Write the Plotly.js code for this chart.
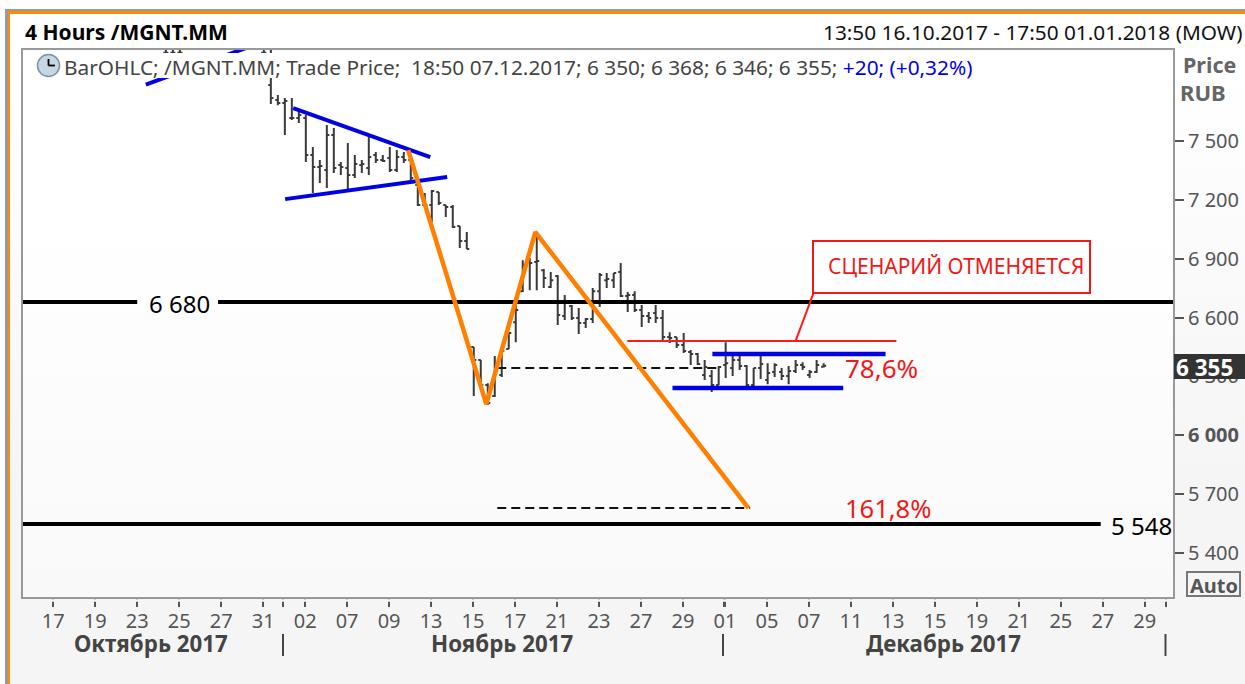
<!DOCTYPE html>
<html><head><meta charset="utf-8">
<script src="https://cdn.plot.ly/plotly-3.0.1.min.js"></script>
<style>
html,body{margin:0;padding:0;width:1245px;height:684px;overflow:hidden;background:#fff}
#frame{position:absolute;left:5px;top:9px;width:1240px;height:675px;box-sizing:border-box;border-top:2px solid #999;border-left:3px solid #999;}
#frame2{position:absolute;left:8px;top:11px;width:1237px;height:673px;box-sizing:border-box;border-top:3px solid #ff8a0a;border-left:2px solid #ff8a0a;background:linear-gradient(#ffffff 0%,#ffffff 8%,#f5f5f5 70%,#f5f5f5 100%)}
#plotbg{position:absolute;left:23px;top:50px;width:1150px;height:547px;background:linear-gradient(#ffffff 0%,#ffffff 30%,#f9f9f9 100%)}
#chart{position:absolute;left:0;top:0;width:1245px;height:684px}
</style></head><body>
<div id="frame"></div><div id="frame2"></div><div id="plotbg"></div><div id="chart"></div>
<script>
// 4-hour bars, by bar number
const barIndex = [-15,-14,-13,-1,0,1,2,3,4,5,6,7,8,9,10,11,12,13,14,15,16,17,18,19,20,21,22,23,24,25,26,27,28,29,30,31,32,33,34,35,36,37,38,39,40,41,42,43,44,45,46,47,48,49,50,51,52,53,54,55,56,57,58,59,60,61,62,63,64,65,66,67,68,69,70,71,72,73,74,75,76,77,78,79];
const openPrices = [7950,7950,7950,7950,7785,7709,7694,7617,7617,7617,7429,7368,7352,7531,7378,7362,7327,7378,7362,7429,7403,7413,7352,7418,7403,7276,7174,7174,7240,7174,7164,7067,6990,6450,6384,6256,6200,6307,6440,6577,6735,6883,6883,6842,6756,6812,6608,6659,6598,6572,6593,6735,6791,6791,6832,6710,6715,6639,6608,6623,6598,6501,6501,6460,6425,6414,6307,6302,6256,6358,6343,6384,6353,6256,6343,6282,6323,6323,6302,6328,6358,6307,6323,6350];
const highPrices = [8000,8000,8000,8000,8000,7735,7719,7719,7658,7633,7469,7403,7582,7566,7393,7490,7429,7403,7520,7444,7429,7469,7454,7444,7403,7301,7235,7250,7240,7174,7174,7067,7036,6450,6384,6266,6404,6435,6526,6679,6893,6904,7031,6848,6832,6817,6715,6664,6649,6598,6751,6827,6827,6827,6878,6730,6735,6664,6628,6664,6639,6526,6501,6521,6435,6420,6384,6333,6353,6475,6404,6404,6358,6343,6404,6368,6368,6343,6353,6384,6373,6333,6384,6368];
const lowPrices = [7900,7900,7900,7900,7689,7683,7531,7607,7592,7393,7235,7286,7260,7337,7327,7250,7311,7337,7327,7388,7393,7342,7342,7388,7301,7169,7169,7087,7174,7113,7057,6955,6950,6200,6246,6154,6195,6297,6440,6475,6730,6740,6740,6751,6751,6562,6588,6588,6516,6547,6572,6654,6751,6751,6705,6628,6628,6552,6572,6572,6486,6470,6445,6420,6358,6358,6282,6221,6256,6292,6302,6333,6246,6246,6287,6261,6297,6282,6261,6318,6333,6292,6318,6346];
const closePrices = [7950,7950,7950,7950,7719,7694,7704,7617,7633,7429,7368,7373,7531,7362,7368,7327,7383,7383,7418,7403,7398,7352,7418,7403,7311,7174,7174,7245,7184,7164,7062,6990,6950,6384,6256,6165,6348,6430,6521,6639,6868,6878,6888,6802,6791,6613,6679,6598,6572,6593,6735,6817,6797,6827,6710,6715,6639,6608,6598,6598,6501,6496,6460,6430,6414,6363,6348,6256,6348,6368,6384,6353,6256,6343,6363,6318,6358,6302,6328,6358,6348,6323,6358,6355];

// Drawn levels and trend lines
const levelUpperX = [-36,-19.1,null,-7.54,130], levelUpperY = [6680,6680,null,6680,6680];
const levelLowerX = [-36,118.6], levelLowerY = [5548,5548];
const zigzagX = [19.63,30.79,37.8,68.26], zigzagY = [7454,6159,7036,5629];
const wedgeTopX = [3.19,22.78], wedgeTopY = [7668,7418];
const wedgeBottomX = [2.04,25.2], wedgeBottomY = [7204,7317];
const channelTopX = [63.1,87.85], channelTopY = [6414,6414];
const channelBottomX = [57.4,81.8], channelBottomY = [6241,6241];
const earlyTrendX = [-17.87,-2.96], earlyTrendY = [7788,7982];
const invalidationX = [50.95,89.4], invalidationY = [6481,6481];
const leaderX = [75,77.55], leaderY = [6481,6725];
const retraceX = [32.36,64.2], retraceY = [6343,6343];
const extensionX = [32.36,68.5], extensionY = [5629,5629];

// Axis ticks
const xTickBars = [-31.1,-25.1,-19.1,-13.1,-7.1,-1.1,1.76,4.9,10.9,16.9,22.9,28.9,34.9,40.9,46.9,52.9,58.9,64.7,64.9,70.9,76.9,82.9,88.9,94.9,100.9,106.9,112.9,118.9,124.9,128];
const xTickText = ['17','19','23','25','27','31','','02','07','09','13','15','17','21','23','27','29','','01','05','07','11','13','15','19','21','25','27','29',''];
const yTickValues = [5400,5700,6000,6300,6600,6900,7200,7500];
const yTickText = ['5 400','5 700','<b>6 000</b>','6 300','6 600','6 900','7 200','7 500'];

const W=1245,H=684,L=23,R=1173,T=50,B=597;
const fx=p=>(p-L)/(R-L), fy=p=>(B-p)/(B-T);
const FONT='"Noto Sans", sans-serif';
function note(text,x,y,size,color,anchor,opts){
  return Object.assign({text:text,xref:'paper',yref:'paper',x:fx(x),y:fy(y),showarrow:false,xanchor:anchor||'left',yanchor:'middle',
    font:{family:FONT,size:size,color:color},borderpad:0,align:anchor||'left'},opts||{});
}
function box(x0,y0,x1,y1,o){
  return Object.assign({type:'rect',xref:'paper',yref:'paper',x0:fx(x0),x1:fx(x1),y0:fy(y0),y1:fy(y1),layer:'above'},o);
}
function seg(x0,y0,x1,y1,color,w){
  return {type:'line',xref:'paper',yref:'paper',x0:fx(x0),x1:fx(x1),y0:fy(y0),y1:fy(y1),layer:'above',line:{color:color,width:w}};
}
function line(x,y,color,width,dash){
  return {type:'scatter',mode:'lines',x:x,y:y,line:{color:color,width:width,dash:dash||'solid'},hoverinfo:'skip',showlegend:false,connectgaps:false};
}
const traces=[
 {type:'ohlc',x:barIndex,open:openPrices,high:highPrices,low:lowPrices,close:closePrices,tickwidth:0.36,
  increasing:{line:{color:'#3a3a3a',width:2}},decreasing:{line:{color:'#3a3a3a',width:2}},hoverinfo:'skip',showlegend:false},
 line(levelUpperX,levelUpperY,'#000',4),
 line(levelLowerX,levelLowerY,'#000',4),
 line(retraceX,retraceY,'#111',2,'9px 5px'),
 line(extensionX,extensionY,'#111',2,'9px 5px'),
 line(invalidationX,invalidationY,'#ff1a1a',2),
 line(leaderX,leaderY,'#ff1a1a',2),
 line(earlyTrendX,earlyTrendY,'#0000e6',4),
 line(wedgeTopX,wedgeTopY,'#0000e6',4),
 line(wedgeBottomX,wedgeBottomY,'#0000e6',4),
 line(channelTopX,channelTopY,'#0000e6',4.5),
 line(channelBottomX,channelBottomY,'#0000e6',4.5),
 line(zigzagX,zigzagY,'#ff8000',4.5)
];
const shapes=[
 box(24,53,985,78,{fillcolor:'#fff',line:{width:0}}),
 {type:'circle',xref:'paper',yref:'paper',x0:fx(37.5),x1:fx(59.5),y0:fy(54.5),y1:fy(76.5),layer:'above',fillcolor:'#c9d6e3',line:{color:'#7f92a6',width:1.5}},
 seg(48.5,59,48.5,65.5,'#000',1.8),
 seg(48.5,65.5,55,65.5,'#000',1.8),
 box(813,241,1090,293,{fillcolor:'#fff',line:{color:'#f01818',width:2}}),
 box(1174,354,1245,379,{fillcolor:'#333',line:{width:0}}),
 box(1187,572,1240,596,{fillcolor:'rgba(0,0,0,0)',line:{color:'#777',width:2}}),
 box(23,599.2,1174,601.8,{fillcolor:'#f5f5f5',line:{width:0}}),
 seg(283,634,283,656,'#444',2),
 seg(723,634,723,656,'#444',2),
 seg(1165.5,634,1165.5,656,'#444',2)
];
const annotations=[
 note('<b>4 Hours /MGNT.MM</b>',24,32,21,'#000'),
 note('13:50 16.10.2017 - 17:50 01.01.2018 (MOW)',1243,32,20.8,'#111','right'),
 note('BarOHLC; /MGNT.MM; Trade Price;  18:50 07.12.2017; 6 350; 6 368; 6 346; 6 355; <span style="color:#0000e6">+20; (+0,32%)</span>',63,67,20.8,'#444'),
 note('<b>Price</b>',1237,64,21.5,'#666','right'),
 note('<b>RUB</b>',1227,92,22,'#666','right'),
 note('<b>6 355</b>',1175,367,22.5,'#fff'),
 note('<b>Auto</b>',1213.5,585,20,'#555','center'),
 note('СЦЕНАРИЙ ОТМЕНЯЕТСЯ',955.5,266,21,'#f01818','center'),
 note('6 680',179,303,24,'#000','center'),
 note('5 548',1141,525,24,'#000','center'),
 note('78,6%',881,368,26,'#f01818','center'),
 note('161,8%',888,508,25.5,'#f01818','center'),
 note('<b>Октябрь 2017</b>',151,643.5,22.3,'#444','center'),
 note('<b>Ноябрь 2017</b>',502,643.5,22.3,'#444','center'),
 note('<b>Декабрь 2017</b>',943,643.5,22.3,'#444','center')
];
const layout={
 width:W,height:H,margin:{l:L,r:W-R,t:T,b:H-B,pad:0},
 paper_bgcolor:'rgba(0,0,0,0)',plot_bgcolor:'rgba(0,0,0,0)',
 showlegend:false,dragmode:false,
 font:{family:FONT},
 xaxis:{type:'linear',range:[-35.42,128.93],autorange:false,fixedrange:true,rangeslider:{visible:false},
  tickmode:'array',tickvals:xTickBars,ticktext:xTickText,ticks:'outside',ticklen:8,tickwidth:2,tickcolor:'#555',ticklabelstandoff:-3,
  tickfont:{family:FONT,size:20,color:'#555'},showgrid:false,zeroline:false,showline:true,mirror:true,linecolor:'#999',linewidth:2},
 yaxis:{type:'linear',range:[5176,7964],autorange:false,fixedrange:true,side:'right',
  tickmode:'array',tickvals:yTickValues,ticktext:yTickText,ticks:'outside',ticklen:9,tickwidth:2,tickcolor:'#555',
  tickfont:{family:FONT,size:20,color:'#555'},showgrid:false,zeroline:false,showline:true,mirror:true,linecolor:'#999',linewidth:2},
 shapes:shapes,annotations:annotations
};
Plotly.newPlot('chart',traces,layout,{displayModeBar:false,staticPlot:true});
</script>
</body></html>
